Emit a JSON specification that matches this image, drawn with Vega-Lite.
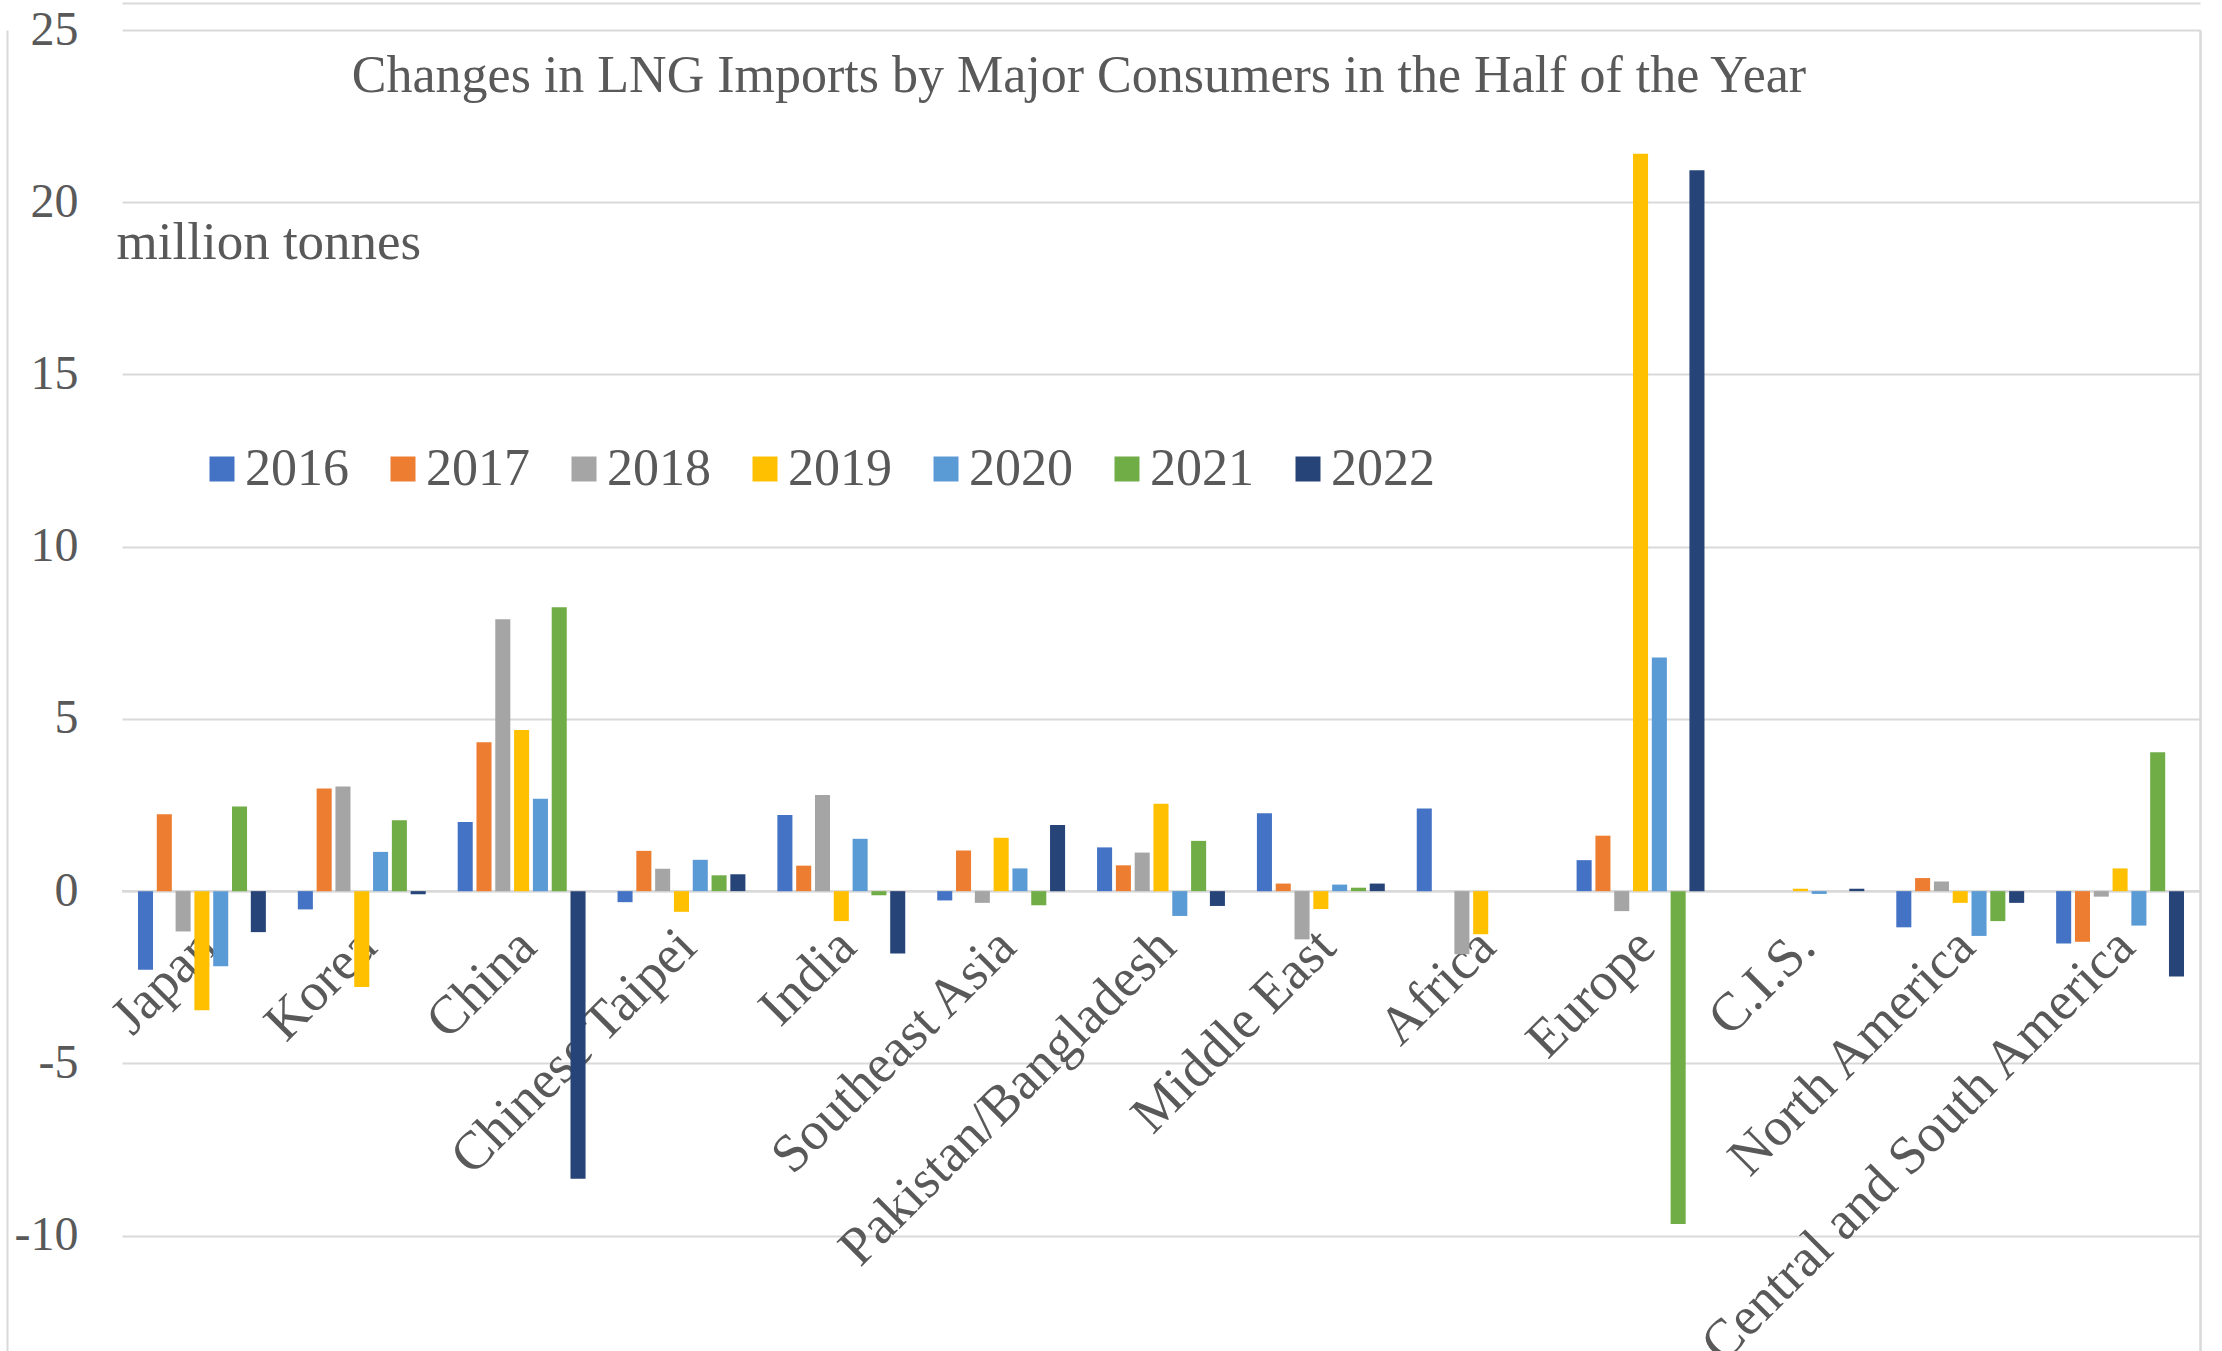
{
  "$schema": "https://vega.github.io/schema/vega-lite/v6.json",
  "width": 2078,
  "height": 1321,
  "autosize": {"type": "none"},
  "padding": {"left": 122, "top": 30, "right": 22, "bottom": 0},
  "background": "white",
  "title": {
    "text": "Changes in LNG Imports by Major Consumers in the Half of the Year",
    "anchor": "middle",
    "frame": "group",
    "orient": "top",
    "offset": 0,
    "baseline": "alphabetic",
    "dx": -82,
    "dy": 141,
    "font": "Liberation Serif",
    "fontSize": 52,
    "fontWeight": "normal",
    "color": "#595959"
  },
  "config": {"view": {"stroke": null}},
  "data": {
    "values": [
      {"region": "Japan", "year": "2016", "value": -2.28},
      {"region": "Japan", "year": "2017", "value": 2.23},
      {"region": "Japan", "year": "2018", "value": -1.17},
      {"region": "Japan", "year": "2019", "value": -3.46},
      {"region": "Japan", "year": "2020", "value": -2.18},
      {"region": "Japan", "year": "2021", "value": 2.46},
      {"region": "Japan", "year": "2022", "value": -1.19},
      {"region": "Korea", "year": "2016", "value": -0.53},
      {"region": "Korea", "year": "2017", "value": 2.98},
      {"region": "Korea", "year": "2018", "value": 3.04},
      {"region": "Korea", "year": "2019", "value": -2.78},
      {"region": "Korea", "year": "2020", "value": 1.14},
      {"region": "Korea", "year": "2021", "value": 2.06},
      {"region": "Korea", "year": "2022", "value": -0.09},
      {"region": "China", "year": "2016", "value": 2.01},
      {"region": "China", "year": "2017", "value": 4.32},
      {"region": "China", "year": "2018", "value": 7.89},
      {"region": "China", "year": "2019", "value": 4.68},
      {"region": "China", "year": "2020", "value": 2.68},
      {"region": "China", "year": "2021", "value": 8.24},
      {"region": "China", "year": "2022", "value": -8.35},
      {"region": "Chinese Taipei", "year": "2016", "value": -0.32},
      {"region": "Chinese Taipei", "year": "2017", "value": 1.17},
      {"region": "Chinese Taipei", "year": "2018", "value": 0.65},
      {"region": "Chinese Taipei", "year": "2019", "value": -0.6},
      {"region": "Chinese Taipei", "year": "2020", "value": 0.91},
      {"region": "Chinese Taipei", "year": "2021", "value": 0.46},
      {"region": "Chinese Taipei", "year": "2022", "value": 0.49},
      {"region": "India", "year": "2016", "value": 2.21},
      {"region": "India", "year": "2017", "value": 0.74},
      {"region": "India", "year": "2018", "value": 2.79},
      {"region": "India", "year": "2019", "value": -0.87},
      {"region": "India", "year": "2020", "value": 1.52},
      {"region": "India", "year": "2021", "value": -0.12},
      {"region": "India", "year": "2022", "value": -1.81},
      {"region": "Southeast Asia", "year": "2016", "value": -0.27},
      {"region": "Southeast Asia", "year": "2017", "value": 1.18},
      {"region": "Southeast Asia", "year": "2018", "value": -0.34},
      {"region": "Southeast Asia", "year": "2019", "value": 1.55},
      {"region": "Southeast Asia", "year": "2020", "value": 0.66},
      {"region": "Southeast Asia", "year": "2021", "value": -0.41},
      {"region": "Southeast Asia", "year": "2022", "value": 1.92},
      {"region": "Pakistan/Bangladesh", "year": "2016", "value": 1.27},
      {"region": "Pakistan/Bangladesh", "year": "2017", "value": 0.75},
      {"region": "Pakistan/Bangladesh", "year": "2018", "value": 1.12},
      {"region": "Pakistan/Bangladesh", "year": "2019", "value": 2.54},
      {"region": "Pakistan/Bangladesh", "year": "2020", "value": -0.72},
      {"region": "Pakistan/Bangladesh", "year": "2021", "value": 1.46},
      {"region": "Pakistan/Bangladesh", "year": "2022", "value": -0.43},
      {"region": "Middle East", "year": "2016", "value": 2.26},
      {"region": "Middle East", "year": "2017", "value": 0.22},
      {"region": "Middle East", "year": "2018", "value": -1.4},
      {"region": "Middle East", "year": "2019", "value": -0.52},
      {"region": "Middle East", "year": "2020", "value": 0.19},
      {"region": "Middle East", "year": "2021", "value": 0.1},
      {"region": "Middle East", "year": "2022", "value": 0.22},
      {"region": "Africa", "year": "2016", "value": 2.4},
      {"region": "Africa", "year": "2017", "value": 0},
      {"region": "Africa", "year": "2018", "value": -1.83},
      {"region": "Africa", "year": "2019", "value": -1.25},
      {"region": "Africa", "year": "2020", "value": 0},
      {"region": "Africa", "year": "2021", "value": 0},
      {"region": "Africa", "year": "2022", "value": 0},
      {"region": "Europe", "year": "2016", "value": 0.9},
      {"region": "Europe", "year": "2017", "value": 1.61},
      {"region": "Europe", "year": "2018", "value": -0.58},
      {"region": "Europe", "year": "2019", "value": 21.41},
      {"region": "Europe", "year": "2020", "value": 6.78},
      {"region": "Europe", "year": "2021", "value": -9.66},
      {"region": "Europe", "year": "2022", "value": 20.93},
      {"region": "C.I.S.", "year": "2016", "value": 0},
      {"region": "C.I.S.", "year": "2017", "value": 0},
      {"region": "C.I.S.", "year": "2018", "value": 0},
      {"region": "C.I.S.", "year": "2019", "value": 0.07},
      {"region": "C.I.S.", "year": "2020", "value": -0.08},
      {"region": "C.I.S.", "year": "2021", "value": 0},
      {"region": "C.I.S.", "year": "2022", "value": 0.07},
      {"region": "North America", "year": "2016", "value": -1.05},
      {"region": "North America", "year": "2017", "value": 0.38},
      {"region": "North America", "year": "2018", "value": 0.28},
      {"region": "North America", "year": "2019", "value": -0.34},
      {"region": "North America", "year": "2020", "value": -1.3},
      {"region": "North America", "year": "2021", "value": -0.87},
      {"region": "North America", "year": "2022", "value": -0.34},
      {"region": "Central and South America", "year": "2016", "value": -1.52},
      {"region": "Central and South America", "year": "2017", "value": -1.47},
      {"region": "Central and South America", "year": "2018", "value": -0.16},
      {"region": "Central and South America", "year": "2019", "value": 0.66},
      {"region": "Central and South America", "year": "2020", "value": -1.0},
      {"region": "Central and South America", "year": "2021", "value": 4.03},
      {"region": "Central and South America", "year": "2022", "value": -2.48}
    ]
  },
  "layer": [
    {
      "transform": [{"filter": "datum.region === 'Japan' && datum.year === '2016'"}],
      "mark": {"type": "rule", "color": "#d9d9d9", "strokeWidth": 2.5},
      "encoding": {
        "y": {
          "datum": 0,
          "type": "quantitative",
          "scale": {"domain": [-13.35, 25], "nice": false, "zero": false},
          "axis": {
            "orient": "right",
            "title": null,
            "labels": false,
            "ticks": false,
            "grid": false,
            "domain": true,
            "domainColor": "#d9d9d9",
            "domainWidth": 2.5
          }
        }
      }
    },
    {
      "transform": [{"filter": "datum.region === 'Japan' && datum.year === '2016'"}],
      "mark": {"type": "rule", "strokeOpacity": 0},
      "encoding": {
        "x": {
          "field": "region",
          "type": "nominal",
          "sort": ["Japan", "Korea", "China", "Chinese Taipei", "India", "Southeast Asia", "Pakistan/Bangladesh", "Middle East", "Africa", "Europe", "C.I.S.", "North America", "Central and South America"],
          "axis": {
            "orient": "top",
            "offset": 27,
            "title": null,
            "labels": false,
            "ticks": false,
            "grid": false,
            "domain": true,
            "domainColor": "#d9d9d9",
            "domainWidth": 2
          }
        },
        "y": {
          "datum": 0,
          "type": "quantitative",
          "scale": {"domain": [-13.35, 25], "nice": false, "zero": false},
          "axis": {
            "orient": "left",
            "offset": 115,
            "title": null,
            "labels": false,
            "ticks": false,
            "grid": false,
            "domain": true,
            "domainColor": "#d9d9d9",
            "domainWidth": 2
          }
        }
      }
    },
    {
      "mark": {"type": "bar"},
      "encoding": {
        "x": {
          "field": "region",
          "type": "nominal",
          "sort": ["Japan", "Korea", "China", "Chinese Taipei", "India", "Southeast Asia", "Pakistan/Bangladesh", "Middle East", "Africa", "Europe", "C.I.S.", "North America", "Central and South America"],
          "scale": {"paddingInner": 0.2, "paddingOuter": 0.1},
          "axis": {
            "title": null,
            "orient": "bottom",
            "offset": -460,
            "domain": false,
            "ticks": false,
            "tickSize": 0,
            "grid": false,
            "labelAngle": -45,
            "labelAlign": "right",
            "labelBaseline": "top",
            "labelPadding": 28,
            "labelOffset": -13,
            "labelFont": "Liberation Serif",
            "labelFontSize": 54,
            "labelColor": "#595959",
            "labelLimit": 1200,
            "labelOverlap": false
          }
        },
        "xOffset": {
          "field": "year",
          "type": "nominal",
          "scale": {"paddingInner": 0.2, "paddingOuter": 0}
        },
        "y": {
          "field": "value",
          "type": "quantitative",
          "scale": {"domain": [-13.35, 25], "nice": false, "zero": false},
          "axis": {
            "orient": "left",
            "values": [-10, -5, 0, 5, 10, 15, 20, 25],
            "labelExpr": "'' + datum.value",
            "grid": true,
            "gridColor": "#d9d9d9",
            "gridWidth": 2,
            "domain": false,
            "ticks": false,
            "labelPadding": 44,
            "labelFont": "Liberation Serif",
            "labelFontSize": 48,
            "labelColor": "#595959",
            "title": "million tonnes",
            "titleAngle": 0,
            "titleAlign": "left",
            "titleBaseline": "alphabetic",
            "titleX": -6,
            "titleY": 228,
            "titleFont": "Liberation Serif",
            "titleFontSize": 53,
            "titleFontWeight": "normal",
            "titleColor": "#595959"
          }
        },
        "color": {
          "field": "year",
          "type": "nominal",
          "scale": {
            "domain": ["2016", "2017", "2018", "2019", "2020", "2021", "2022"],
            "range": ["#4472c4", "#ed7d31", "#a5a5a5", "#ffc000", "#5b9bd5", "#70ad47", "#264478"]
          },
          "legend": {
            "title": null,
            "orient": "none",
            "legendX": 74,
            "legendY": 413,
            "direction": "horizontal",
            "symbolType": "square",
            "symbolSize": 625,
            "symbolStrokeWidth": 0,
            "labelFont": "Liberation Serif",
            "labelFontSize": 52,
            "labelColor": "#595959",
            "labelOffset": -3,
            "columnPadding": 28,
            "labelLimit": 300
          }
        }
      }
    }
  ],
  "resolve": {"axis": {"y": "independent", "x": "independent"}}
}
